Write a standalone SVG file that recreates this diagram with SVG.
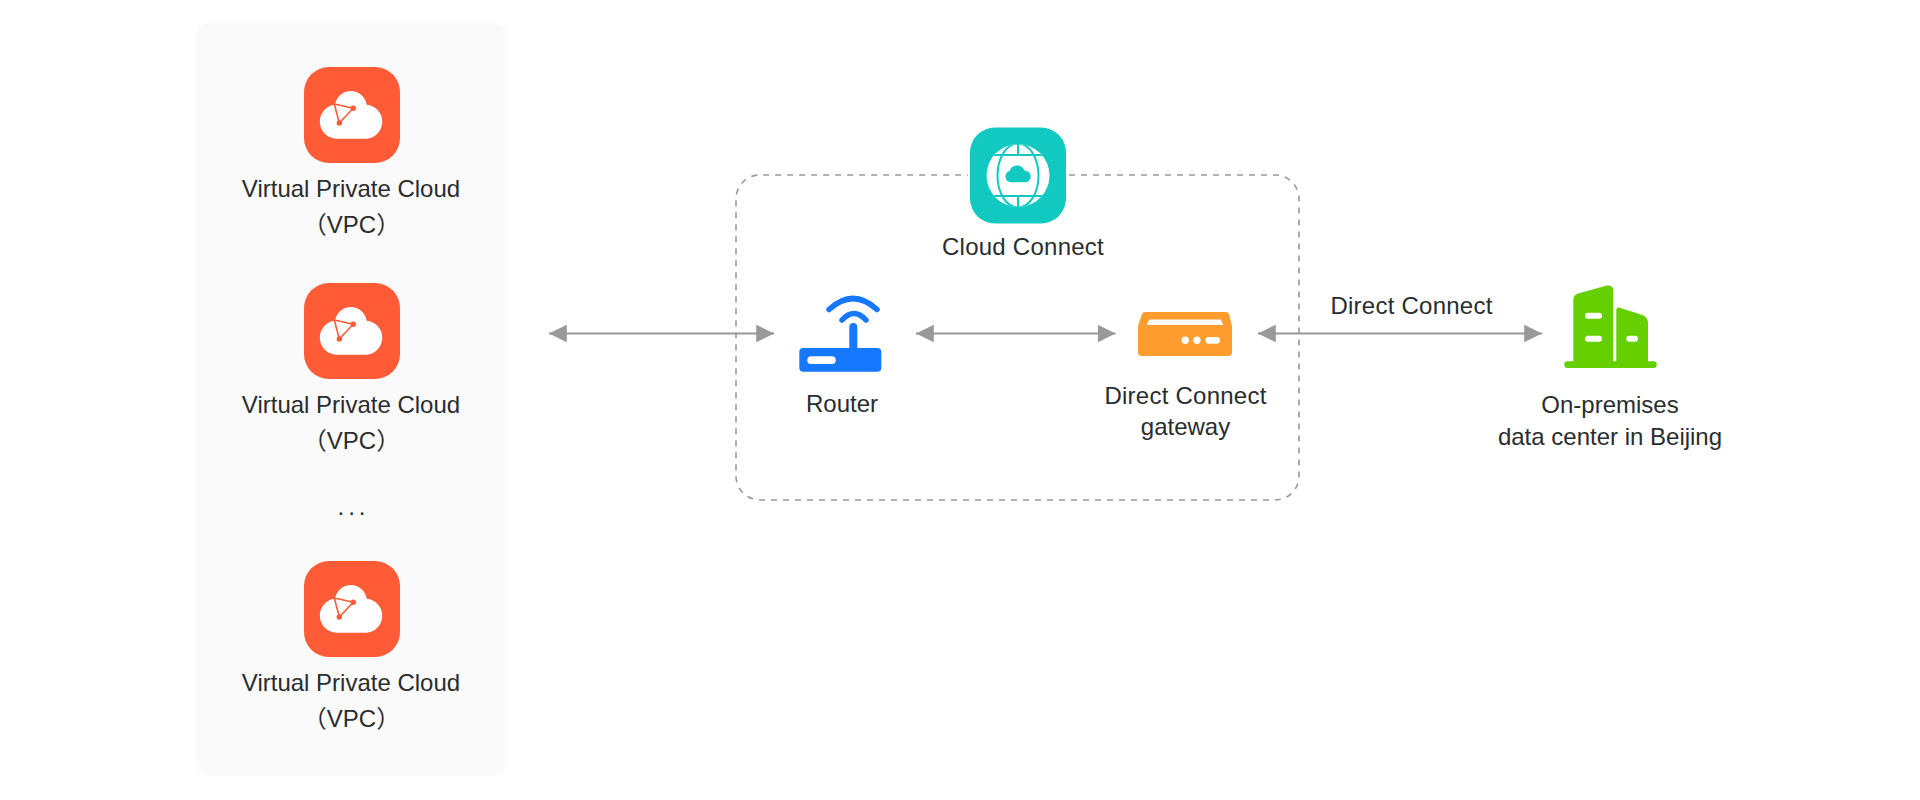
<svg xmlns="http://www.w3.org/2000/svg" width="1920" height="800" viewBox="0 0 1920 800">
<style>
text{font-family:"Liberation Sans","Noto Sans CJK SC",sans-serif;font-size:24px;fill:#2a2d2e;text-anchor:middle}
.dc{letter-spacing:.25px}
.conn{stroke:#999;stroke-width:2;fill:none;marker-start:url(#a);marker-end:url(#a)}
</style>
<defs>
<marker id="a" markerUnits="userSpaceOnUse" markerWidth="19" markerHeight="19" refX="18" refY="9" orient="auto-start-reverse" viewBox="0 0 19 19"><path d="M0.2 0.2L18 9L0.2 17.8Z" fill="#999"/></marker>
<g id="vpc">
<rect x="304" y="67" width="96" height="96" rx="25" fill="#ff5b37"/>
<path d="M336.3 138.7A17 17 0 0 1 335 104.8A16 16 0 0 1 366.7 104.8A17 17 0 0 1 366.3 138.7Z" fill="#fff"/>
<path d="M334.3 104L353.3 108.3L339.3 123Z" fill="none" stroke="#ff5b37" stroke-width="1.6"/>
<circle cx="353.3" cy="108.3" r="2.7" fill="#ff5b37"/>
<circle cx="339.3" cy="123" r="2.7" fill="#ff5b37"/>
</g>
<clipPath id="globe"><circle cx="1018" cy="175.5" r="31.5"/></clipPath>
</defs>
<rect id="panel" x="196" y="23" width="311" height="753" rx="14" fill="#fafafa"/>
<path id="cloud-connect-frame" d="M1069 175H1275A24 24 0 0 1 1299 199V476A24 24 0 0 1 1275 500H760A24 24 0 0 1 736 476V199A24 24 0 0 1 760 175H968" fill="none" stroke="#999" stroke-width="1.6" stroke-dasharray="6 6"/>
<g id="connectors">
<line class="conn" x1="549" y1="333.5" x2="774" y2="333.5"/>
<line class="conn" x1="916" y1="333.5" x2="1115.5" y2="333.5"/>
<line class="conn" x1="1258" y1="333.5" x2="1542" y2="333.5"/>
<text class="dc" x="1411.5" y="314">Direct Connect</text>
</g>
<g id="vpc-1"><use href="#vpc"/><text x="351" y="197">Virtual Private Cloud</text><text x="351.5" y="233">（VPC）</text></g>
<g id="vpc-2"><use href="#vpc" y="216"/><text x="351" y="413">Virtual Private Cloud</text><text x="351.5" y="449">（VPC）</text></g>
<text id="ellipsis" x="353.5" y="515" letter-spacing="4">...</text>
<g id="vpc-3"><use href="#vpc" y="494"/><text x="351" y="691">Virtual Private Cloud</text><text x="351.5" y="727">（VPC）</text></g>
<g id="cloud-connect">
<rect x="970" y="127.5" width="96" height="96" rx="25" fill="#12c9c2"/>
<circle cx="1018" cy="175.5" r="31.5" fill="#fff"/>
<g clip-path="url(#globe)" stroke="#12c9c2" stroke-width="2" fill="none">
<ellipse cx="1018" cy="175.5" rx="20.5" ry="32"/>
<path d="M980 155H1056M980 196H1056M1018 140V155M1018 196V212"/>
</g>
<path d="M1011 182.3A5.8 5.8 0 0 1 1009.5 171A8 8 0 0 1 1024.5 170.5A5.9 5.9 0 0 1 1025 182.3Z" fill="#12c9c2"/>
<text class="dc" x="1023" y="255">Cloud Connect</text>
</g>
<g id="router">
<rect x="799.3" y="348" width="82" height="23.7" rx="4" fill="#1677ff"/>
<rect x="807.3" y="356.3" width="28.4" height="7.7" rx="3.85" fill="#fff"/>
<path d="M853.3 327V349" stroke="#1677ff" stroke-width="8" stroke-linecap="round"/>
<path d="M829 309.5Q853 287.5 877 309.5M842 320Q854 307 866 320" fill="none" stroke="#1677ff" stroke-width="5.5" stroke-linecap="round"/>
<text x="842" y="412">Router</text>
</g>
<g id="direct-connect-gateway">
<path d="M1145 312H1226Q1228 312 1229 314L1232 326V352Q1232 356 1228 356H1142Q1138 356 1138 352V326L1142 314Q1143 312 1145 312Z" fill="#ff9c2e"/>
<path d="M1149.3 319.5H1220.7L1223.3 325H1146.7Z" fill="#fff"/>
<circle cx="1185.3" cy="340.3" r="3.7" fill="#fff"/>
<circle cx="1197" cy="340.3" r="3.7" fill="#fff"/>
<rect x="1205.3" y="337" width="14.7" height="6.7" rx="3.35" fill="#fff"/>
<text class="dc" x="1185.5" y="404">Direct Connect</text>
<text x="1185.5" y="435">gateway</text>
</g>
<g id="data-center">
<rect x="1564.3" y="361.3" width="92.4" height="6.6" rx="3" fill="#66cf00"/>
<path d="M1573.3 362V300Q1573.3 295 1578 293.5L1606 285.7Q1613.3 284.5 1613.3 291V362Z" fill="#66cf00"/>
<path d="M1616.3 362V310Q1616.3 307 1619 307.5L1641 314.5Q1648 316.5 1648 323V362Z" fill="#66cf00"/>
<rect x="1585" y="312.7" width="17" height="6" rx="3" fill="#fff"/>
<rect x="1585" y="335.7" width="17" height="6" rx="3" fill="#fff"/>
<rect x="1626.3" y="335.7" width="11.7" height="6" rx="3" fill="#fff"/>
<text x="1610" y="413">On-premises</text>
<text x="1610" y="445">data center in Beijing</text>
</g>
</svg>
